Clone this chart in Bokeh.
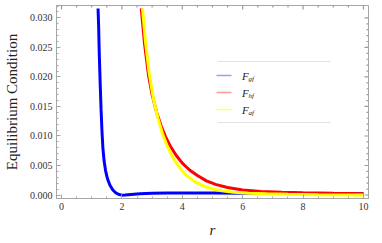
from bokeh.plotting import figure
from bokeh.models import (Range1d, Label, BoxAnnotation, SingleIntervalTicker, PrintfTickFormatter)
from bokeh.embed import file_html
from bokeh.resources import INLINE

# ---- data ----
r_gf = [1.21, 1.23, 1.25, 1.28, 1.31, 1.34, 1.37, 1.41, 1.46, 1.52, 1.60, 1.70, 1.80, 1.90,
        2.0, 2.1, 2.3, 2.6, 3.0, 3.5, 4.0, 5.0, 6.0, 7.0, 8.0, 9.0, 10.0]
F_gf = [0.0316, 0.0285, 0.0240, 0.0190, 0.0145, 0.0108, 0.0080, 0.0058, 0.0041, 0.0028,
        0.0017, 0.00085, 0.00035, 0.00008, -0.00002, 0.0, 0.00008, 0.0002, 0.0003, 0.00035,
        0.00036, 0.00034, 0.0003, 0.00027, 0.00024, 0.00022, 0.0002]

r_hf = [2.64, 2.75, 2.88, 3.0, 3.15, 3.3, 3.45, 3.6, 3.8, 4.0, 4.25, 4.5, 4.8, 5.1, 5.5,
        6.0, 6.6, 7.3, 8.0, 9.0, 10.0]
F_hf = [0.0316, 0.0256, 0.0203, 0.0170, 0.0140, 0.0117, 0.0098, 0.0083, 0.0067, 0.0054,
        0.0042, 0.0033, 0.0024, 0.0018, 0.00127, 0.00085, 0.00059, 0.00045, 0.00037,
        0.00029, 0.00023]

r_af = [2.68, 2.78, 2.9, 3.05, 3.2, 3.35, 3.5, 3.7, 3.9, 4.1, 4.4, 4.7, 5.0, 5.3, 5.7,
        6.2, 6.8, 7.5, 8.5, 10.0]
F_af = [0.0316, 0.0260, 0.0208, 0.0161, 0.0129, 0.0103, 0.0083, 0.0062, 0.0047, 0.0035,
        0.0023, 0.00152, 0.00102, 0.0007, 0.00045, 0.0003, 0.0002, 0.00012, 0.00006,
        0.00002]

series_names = ["F", "F", "F"]
subscripts = ["gf", "hf", "af"]
colors = ["#0000ff", "#ff0000", "#ffff00"]
legend_colors = ["#9a9aff", "#ff9a9a", "#ffff66"]
x_label = "r"
y_label = "Equilibrium Condition"

x_major = [0, 2, 4, 6, 8, 10]
x_minor_step = 0.5
y_major = [0.0, 0.005, 0.010, 0.015, 0.020, 0.025, 0.030]
y_minor_step = 0.001

SERIF = "Liberation Serif"
AX = "#a6a6a6"

X0, X1 = -0.166, 10.166
Y0, Y1 = -0.00059, 0.0321
FW, FH = 312, 194

p = figure(width=378, height=240, output_backend="svg", toolbar_location=None,
           x_range=Range1d(X0, X1), y_range=Range1d(Y0, Y1),
           min_border_left=56, min_border_right=10, min_border_top=5, min_border_bottom=41,
           x_axis_label=x_label, y_axis_label=y_label)
p.grid.visible = False
p.outline_line_color = AX
p.background_fill_color = "white"
p.border_fill_color = "white"

p.xaxis.ticker = SingleIntervalTicker(interval=2, num_minor_ticks=4)
p.yaxis.ticker = SingleIntervalTicker(interval=0.005, num_minor_ticks=5)
p.yaxis.formatter = PrintfTickFormatter(format="%.3f")

for ax in p.xaxis + p.yaxis:
    ax.axis_line_color = AX
    ax.major_tick_line_color = AX
    ax.minor_tick_line_color = AX
    ax.major_tick_in = 4
    ax.major_tick_out = 0
    ax.minor_tick_in = 2
    ax.minor_tick_out = 0
    ax.major_label_text_font = SERIF
    ax.major_label_text_font_size = "10px"
    ax.major_label_text_color = "#333333"
    ax.major_label_standoff = 4
    ax.axis_label_text_font = SERIF
    ax.axis_label_text_color = "#222222"

p.xaxis[0].axis_label_text_font_size = "15px"
p.xaxis[0].axis_label_text_font_style = "italic"
p.xaxis[0].axis_label_standoff = 9
p.yaxis[0].axis_label_text_font_size = "15px"
p.yaxis[0].axis_label_text_font_style = "normal"
p.yaxis[0].axis_label_standoff = 7

# mirrored frame ticks on top and right (pointing inward), as thin boxes
dy = (Y1 - Y0) / FH
dx = (X1 - X0) / FW
n_xminor = int(round((x_major[-1] - x_major[0]) / x_minor_step))
for i in range(n_xminor + 1):
    t = x_major[0] + i * x_minor_step
    L = 4 if i % 4 == 0 else 2
    p.add_layout(BoxAnnotation(left=t - 0.6 * dx, right=t + 0.6 * dx, top=Y1, bottom=Y1 - L * dy,
                               fill_color="#999999", fill_alpha=1, line_color=None))
n_yminor = int(round((y_major[-1] - y_major[0]) / y_minor_step))
for i in range(n_yminor + 1):
    t = y_major[0] + i * y_minor_step
    L = 4 if i % 5 == 0 else 2
    p.add_layout(BoxAnnotation(left=X1 - L * dx, right=X1, top=t + 0.6 * dy, bottom=t - 0.6 * dy,
                               fill_color="#999999", fill_alpha=1, line_color=None))

# curves
p.line(r_gf, F_gf, line_color=colors[0], line_width=3)
p.line(r_hf, F_hf, line_color=colors[1], line_width=3)
p.line(r_af, F_af, line_color=colors[2], line_width=3)

# legend built from annotations (screen units relative to the frame)
centers = [123, 106, 89]
for name, s, c, cy in zip(series_names, subscripts, legend_colors, centers):
    p.add_layout(BoxAnnotation(left=160, right=175, top=cy + 0.7, bottom=cy - 0.7,
                               left_units="screen", right_units="screen",
                               top_units="screen", bottom_units="screen",
                               fill_color=c, fill_alpha=1, line_color=None))
    p.add_layout(Label(x=185.5, y=cy, x_units="screen", y_units="screen", text=name,
                       text_font=SERIF, text_font_style="italic", text_font_size="11px",
                       text_color="#222222", text_baseline="middle", text_align="left"))
    p.add_layout(Label(x=192, y=cy - 3, x_units="screen", y_units="screen", text=s,
                       text_font=SERIF, text_font_style="italic", text_font_size="7px",
                       text_color="#222222", text_baseline="middle", text_align="left"))

# legend frame lines (top and bottom)
for yy in [137, 76]:
    p.add_layout(BoxAnnotation(left=161, right=274, top=yy + 0.5, bottom=yy - 0.5,
                               left_units="screen", right_units="screen",
                               top_units="screen", bottom_units="screen",
                               fill_color="#e2e2e2", fill_alpha=1, line_color=None))

open("out.html", "w").write(file_html(p, INLINE))
